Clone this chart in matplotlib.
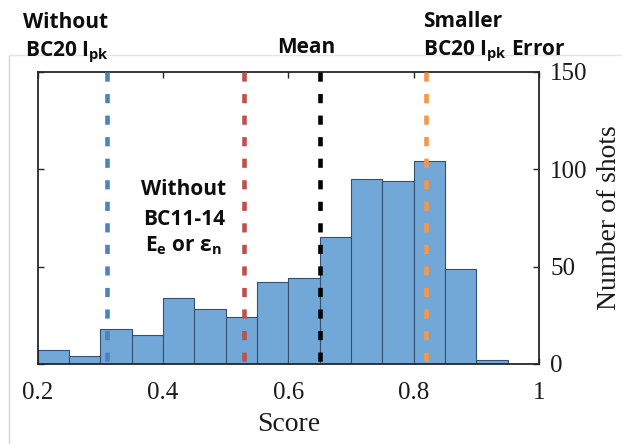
import matplotlib
matplotlib.use("Agg")
import matplotlib.pyplot as plt
from matplotlib.lines import Line2D

plt.rcParams["mathtext.fontset"] = "custom"
plt.rcParams["mathtext.rm"] = "Open Sans:bold"
plt.rcParams["mathtext.it"] = "Open Sans:bold"
plt.rcParams["mathtext.bf"] = "Open Sans:bold"

# Histogram of scores (bin edges and counts per bin)
bin_edges = [0.20, 0.25, 0.30, 0.35, 0.40, 0.45, 0.50, 0.55, 0.60,
             0.65, 0.70, 0.75, 0.80, 0.85, 0.90, 0.95, 1.00]
counts = [7, 4, 18, 15, 34, 28, 24, 42, 44, 65, 95, 94, 104, 49, 2, 0]

# Reference score levels drawn as dashed vertical lines
marker_scores = [0.31, 0.53, 0.65, 0.82]
marker_colors = ["#4f81bd", "#c0504d", "#000000", "#f79646"]

x_ticks = [0.2, 0.4, 0.6, 0.8, 1.0]
x_tick_labels = ["0.2", "0.4", "0.6", "0.8", "1"]
y_ticks = [0, 50, 100, 150]

W, H = 622, 444
fig = plt.figure(figsize=(W / 100, H / 100), dpi=100)


def fx(px):
    return px / W


def fy(py):
    return 1 - py / H


# light page frame
fig.add_artist(Line2D([fx(8.5), fx(8.5)], [0, fy(55)], transform=fig.transFigure,
                      color="#d6d6d6", lw=1.0))
fig.add_artist(Line2D([fx(8.5), 1], [fy(55), fy(55)], transform=fig.transFigure,
                      color="#e4e4e4", lw=1.0))

left, right, top, bottom = 37.7, 539.0, 71.7, 364.0
ax = fig.add_axes([fx(left), fy(bottom), fx(right - left), (bottom - top) / H])

widths = [b - a for a, b in zip(bin_edges[:-1], bin_edges[1:])]
ax.bar(bin_edges[:-1], counts, width=widths, align="edge",
       color="#72a8d8", edgecolor="#34506e", linewidth=0.8, zorder=2)

for xv, col in zip(marker_scores, marker_colors):
    ax.plot([xv, xv], [150, 0], color=col, lw=3.3, dashes=(2.0, 2.7),
            solid_capstyle="butt", dash_capstyle="butt", zorder=3)

ax.set_xlim(0.2, 1.0)
ax.set_ylim(0, 150)
ax.set_xticks(x_ticks)
ax.set_xticklabels(x_tick_labels)
ax.set_yticks(y_ticks)

serif = "Liberation Serif"
ax.tick_params(axis="x", which="both", direction="in", top=True, bottom=True,
               length=4, width=1.0, color="#262626", pad=13, labelsize=18)
ax.tick_params(axis="y", which="both", direction="in", left=True, right=True,
               labelleft=False, labelright=True, length=4, width=1.0,
               color="#262626", pad=8, labelsize=18)
for lab in ax.get_xticklabels() + ax.get_yticklabels():
    lab.set_fontfamily(serif)
    lab.set_color("#1a1a1a")

for sp in ax.spines.values():
    sp.set_color("#262626")
    sp.set_linewidth(1.3)

ax.yaxis.set_label_position("right")
ax.set_ylabel("Number of shots", fontfamily=serif, fontsize=20, color="#1a1a1a",
              labelpad=7)
ax.set_xlabel("Score", fontfamily=serif, fontsize=20, color="#1a1a1a", labelpad=6)

# annotation texts
ann = dict(fontfamily="Open Sans", fontweight="bold", fontsize=15,
           color="#0d0d0d", va="baseline")
fig.text(fx(66), fy(28.3), "Without", ha="center", **ann)
fig.text(fx(67), fy(56), r"BC20 I$_{\rm pk}$", ha="center", **ann)
fig.text(fx(306), fy(53), "Mean", ha="center", **ann)
fig.text(fx(422.7), fy(26.7), "Smaller", ha="left", **ann)
fig.text(fx(422.7), fy(55), r"BC20 I$_{\rm pk}$ Error", ha="left", **ann)
fig.text(fx(184), fy(195), "Without", ha="center", **ann)
fig.text(fx(184), fy(225), "BC11-14", ha="center", **ann)
fig.text(fx(183), fy(251.7), r"E$_{\rm e}$ or ε$_{\rm n}$", ha="center", **ann)

fig.savefig("out.png", dpi=100)
